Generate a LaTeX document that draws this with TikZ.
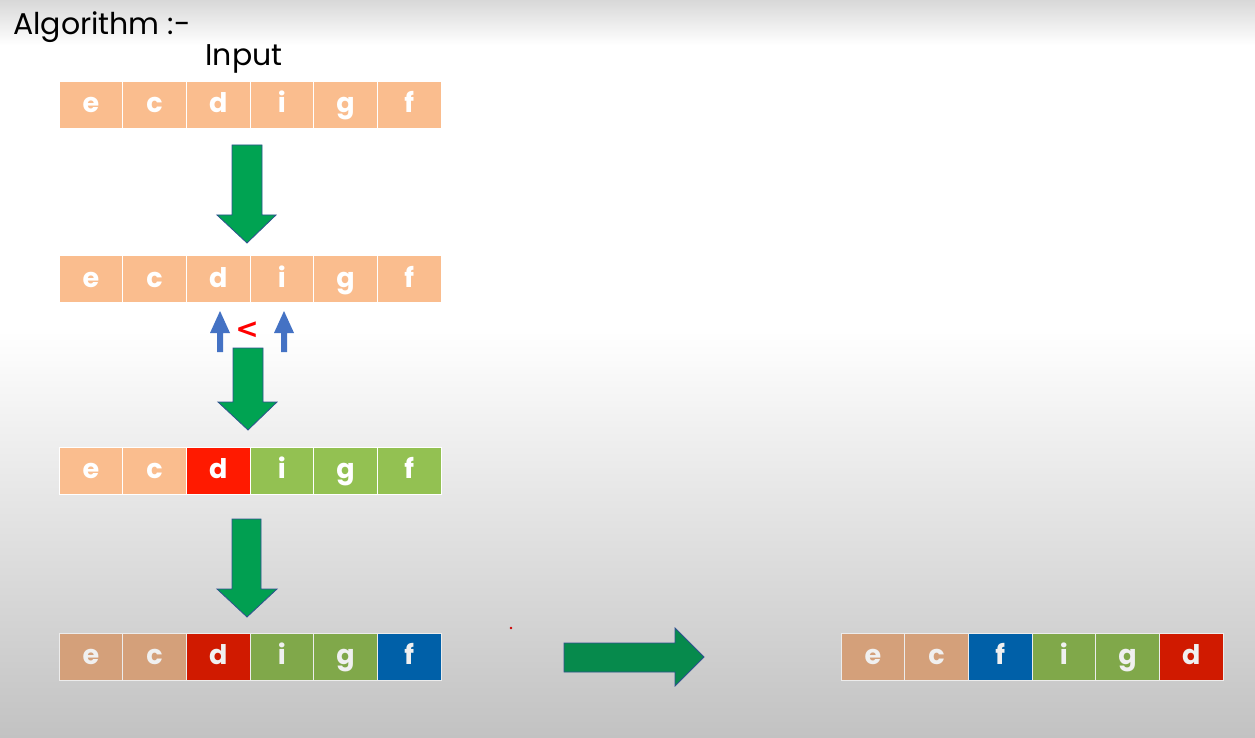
\documentclass[tikz,border=0pt]{standalone}
\usepackage{fontspec}
\setmainfont{Poppins}
\newfontfamily\symfont{DejaVu Sans}
\definecolor{peach}{HTML}{FABD8E}
\definecolor{peachd}{HTML}{D4A07A}
\definecolor{redb}{HTML}{FF1A00}
\definecolor{redd}{HTML}{D01A00}
\definecolor{greenb}{HTML}{93C152}
\definecolor{greend}{HTML}{80A84A}
\definecolor{blued}{HTML}{0060A8}
\definecolor{arrowg}{HTML}{00A352}
\definecolor{arrowgd}{HTML}{068A4C}
\definecolor{arrowline}{HTML}{2F528F}
\definecolor{ptr}{HTML}{4472C4}
\definecolor{bgtop}{HTML}{D8D8D8}
\definecolor{bgbot}{HTML}{C2C2C2}
\begin{document}
\begin{tikzpicture}[x=1pt,y=-1pt,
  cell/.style={minimum width=63.7pt,minimum height=47pt,inner sep=0pt,draw=white,line width=0.8pt,
    text=white,font=\fontsize{27}{29}\selectfont\bfseries,text height=20pt,text depth=4pt},
  dimcell/.style={cell,draw=white!85!gray,text=white!88!gray},
  fat/.style={fill=arrowg,draw=arrowline,line width=0.8pt,line join=miter},
  fatd/.style={fill=arrowgd,draw=arrowline,line width=0.8pt,line join=miter},
  pointer/.style={fill=ptr,draw=none},
  title/.style={font=\fontsize{30}{32}\selectfont,text=black,inner sep=0pt}]
\useasboundingbox (0,0) rectangle (1255,738);
% background
\shade[top color=bgtop,bottom color=white] (0,0) rectangle (1255,45);
\fill[white] (0,45) rectangle (1255,330);
\shade[top color=white,bottom color=bgbot] (0,330) rectangle (1255,738);

\node[title,anchor=base west] (alg) at (13,35) {Algorithm :-};
\node[title,anchor=base] (inp) at (244,66) {Input};

% rows
\foreach \l/\c [count=\i] in {e/peach,c/peach,d/peach,i/peach,g/peach,f/peach}
  \node[cell,fill=\c] (a\i) at ({59+63.7*(\i-0.5)},105) {\l};
\foreach \l/\c [count=\i] in {e/peach,c/peach,d/peach,i/peach,g/peach,f/peach}
  \node[cell,fill=\c] (b\i) at ({59+63.7*(\i-0.5)},279) {\l};
\foreach \l/\c [count=\i] in {e/peach,c/peach,d/redb,i/greenb,g/greenb,f/greenb}
  \node[cell,fill=\c] (c\i) at ({59+63.7*(\i-0.5)},470.5) {\l};
\foreach \l/\c [count=\i] in {e/peachd,c/peachd,d/redd,i/greend,g/greend,f/blued}
  \node[dimcell,fill=\c] (d\i) at ({59+63.7*(\i-0.5)},656.5) {\l};
\foreach \l/\c [count=\i] in {e/peachd,c/peachd,f/blued,i/greend,g/greend,d/redd}
  \node[dimcell,fill=\c] (e\i) at ({841+63.7*(\i-0.5)},656.5) {\l};

% fat arrows
\draw[fat] (232,145) -- (262,145) -- (262,215) -- (276,215) -- (247,243) -- (217,215) -- (232,215) -- cycle;
\draw[fat] (233,348) -- (263,348) -- (263,402) -- (277,402) -- (248,430) -- (218,402) -- (233,402) -- cycle;
\draw[fat,fill=arrowg!85!arrowgd] (232,519) -- (261,519) -- (261,589) -- (277,589) -- (247,617) -- (217,589) -- (232,589) -- cycle;
\draw[fatd] (564,643) -- (675,643) -- (675,628) -- (704,657) -- (675,686) -- (675,672) -- (564,672) -- cycle;

% pointers
\fill[pointer] (217,352) -- (223,352) -- (223,333) -- (230,333) -- (220,311) -- (210,333) -- (217,333) -- cycle;
\fill[pointer] (281,352) -- (287,352) -- (287,333) -- (294,333) -- (284,311) -- (274,333) -- (281,333) -- cycle;
\node[text=red,font=\symfont\fontsize{28}{28}\selectfont\bfseries,inner sep=0pt] (lt) at (247,330) {<};

% stray dot
\fill[red!80!black] (511,628) circle (1.3);
\end{tikzpicture}
\end{document}
